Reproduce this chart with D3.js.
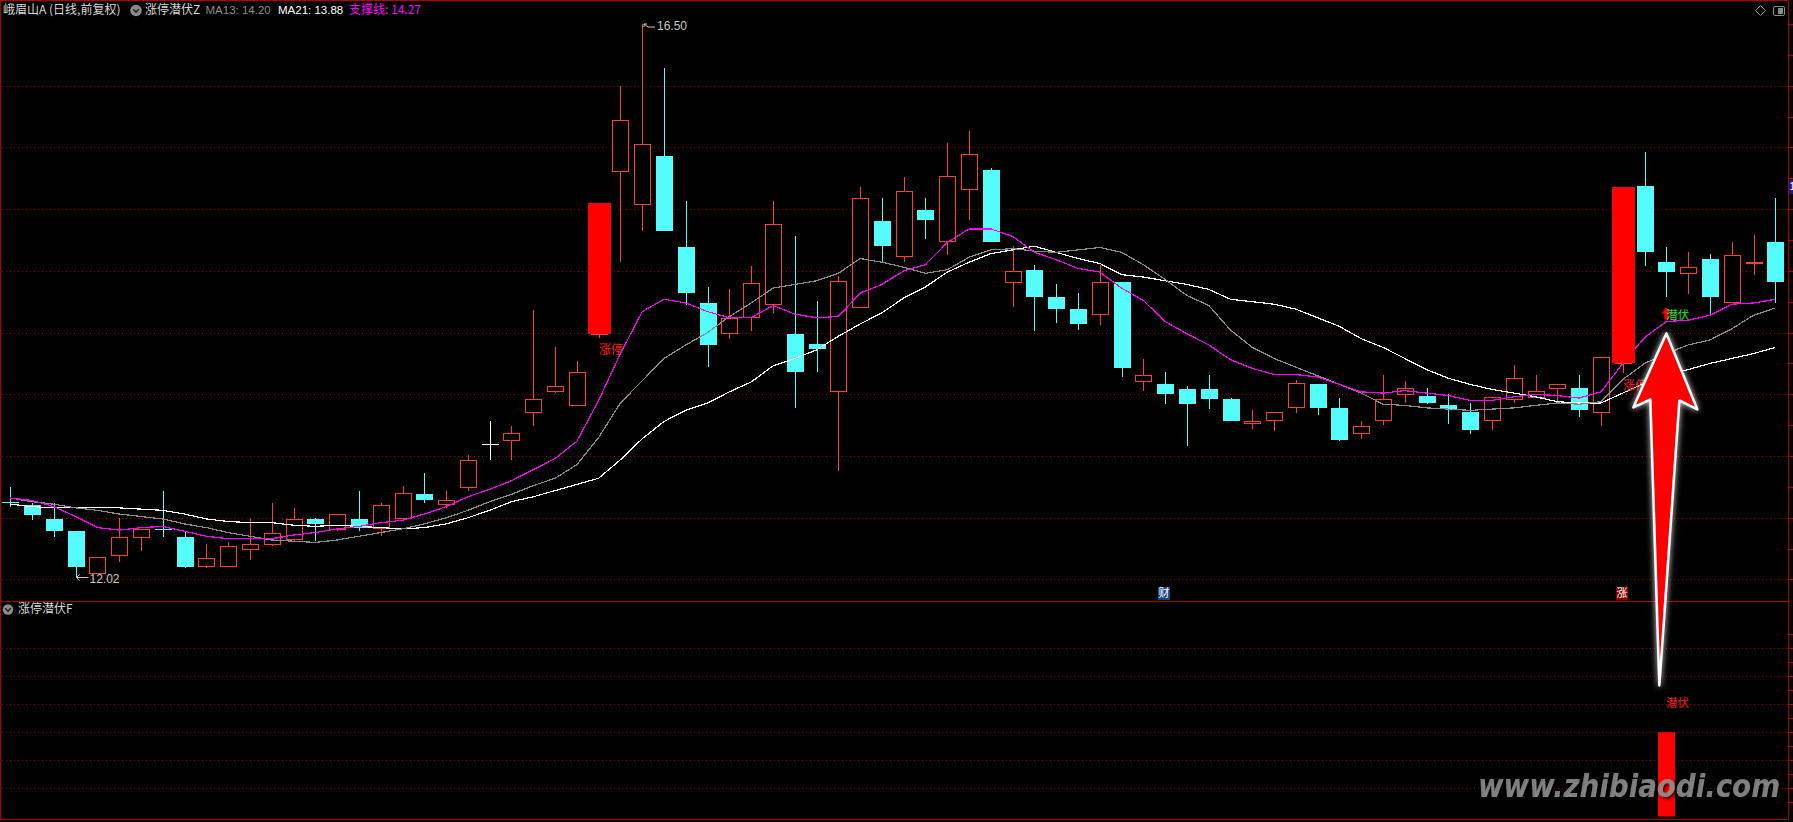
<!DOCTYPE html>
<html>
<head>
<meta charset="utf-8">
<title>峨眉山A 涨停潜伏</title>
<script src="https://cdn.jsdelivr.net/npm/d3@7/dist/d3.min.js"></script>
<style>
  html, body { margin:0; padding:0; background:#000; overflow:hidden; }
  svg { display:block; }
</style>
</head>
<body>
<svg id="chart" width="1793" height="822"></svg>
<script>
// ---------------- DATA ----------------
const opens = [
12.63,12.60,12.49,12.39,12.05,12.20,12.34,12.41,12.34,12.11,
12.11,12.25,12.29,12.33,12.49,12.41,12.49,12.42,12.50,12.69,
12.61,12.75,13.10,13.13,13.36,13.53,13.41,13.99,15.31,15.04,
15.43,14.69,14.24,14.00,14.13,14.23,13.99,13.91,13.53,14.21,
14.90,14.62,14.99,14.74,15.16,15.32,14.41,14.51,14.29,14.19,
14.15,14.41,13.61,13.58,13.54,13.54,13.46,13.27,13.29,13.40,
13.58,13.39,13.19,13.29,13.50,13.49,13.41,13.36,13.29,13.46,
13.48,13.55,13.55,13.36,13.75,15.19,14.57,14.48,14.60,14.25,
14.56,14.73];
const highs = [
12.75,12.62,12.62,12.39,12.18,12.50,12.41,12.72,12.39,12.29,
12.30,12.49,12.62,12.58,12.50,12.53,12.72,12.62,12.76,12.86,
12.72,13.01,13.28,13.24,14.18,13.88,13.77,15.05,16.00,16.50,
16.14,15.07,14.37,14.35,14.54,15.07,14.78,14.26,14.46,15.18,
15.09,15.26,15.09,15.54,15.63,15.33,14.70,14.55,14.39,14.32,
14.55,14.41,13.79,13.68,13.57,13.66,13.47,13.37,13.36,13.62,
13.58,13.47,13.28,13.66,13.61,13.55,13.50,13.43,13.48,13.74,
13.66,13.58,13.66,13.80,15.18,15.46,14.69,14.65,14.64,14.73,
14.79,15.09];
const lows = [
12.59,12.48,12.34,12.02,12.05,12.14,12.23,12.34,12.09,12.09,
12.11,12.16,12.27,12.31,12.31,12.39,12.39,12.35,12.47,12.62,
12.58,12.72,12.97,12.97,13.24,13.51,13.41,13.96,14.57,14.82,
14.82,14.22,13.72,13.95,14.01,14.16,13.39,13.68,12.88,14.21,
14.57,14.57,14.76,14.63,14.91,14.73,14.21,14.01,14.08,14.02,
14.06,13.64,13.53,13.42,13.08,13.38,13.28,13.22,13.20,13.35,
13.33,13.12,13.14,13.25,13.43,13.42,13.26,13.18,13.21,13.43,
13.48,13.43,13.32,13.24,13.67,14.54,14.29,14.31,14.14,14.25,
14.47,14.24];
const closes = [
12.62,12.52,12.39,12.10,12.18,12.34,12.41,12.40,12.10,12.17,
12.27,12.29,12.38,12.49,12.45,12.53,12.42,12.60,12.70,12.64,
12.64,12.97,13.10,13.19,13.46,13.57,13.68,15.05,15.72,15.53,
14.82,14.32,13.90,14.12,14.40,14.88,13.68,13.87,14.42,15.09,
14.70,15.15,14.91,15.27,15.45,14.73,14.50,14.29,14.19,14.07,
14.41,13.71,13.66,13.50,13.42,13.46,13.28,13.28,13.36,13.59,
13.39,13.13,13.24,13.46,13.55,13.43,13.38,13.21,13.48,13.63,
13.53,13.58,13.37,13.80,15.18,14.65,14.49,14.53,14.29,14.63,
14.57,14.41];
// 支撑线 (magenta)
const supportLine = [
12.66,12.64,12.59,12.51,12.42,12.40,12.42,12.43,12.39,12.35,
12.33,12.33,12.33,12.36,12.38,12.41,12.43,12.46,12.48,12.53,
12.59,12.67,12.73,12.80,12.89,12.98,13.12,13.45,13.83,14.17,
14.27,14.24,14.17,14.12,14.12,14.22,14.15,14.12,14.13,14.32,
14.39,14.50,14.55,14.73,14.84,14.84,14.78,14.65,14.59,14.52,
14.49,14.36,14.26,14.09,13.99,13.90,13.78,13.71,13.66,13.66,
13.64,13.58,13.52,13.51,13.53,13.51,13.49,13.45,13.45,13.48,
13.50,13.49,13.47,13.52,13.75,13.96,14.09,14.10,14.14,14.23,
14.24,14.27];
// MA13 (gray)
const ma13 = [
12.66,12.63,12.61,12.58,12.56,12.53,12.51,12.49,12.45,12.42,
12.38,12.35,12.32,12.31,12.30,12.32,12.35,12.38,12.41,12.45,
12.50,12.56,12.63,12.69,12.76,12.82,12.93,13.15,13.43,13.61,
13.79,13.90,14.00,14.13,14.24,14.36,14.39,14.42,14.48,14.60,
14.57,14.53,14.48,14.51,14.61,14.67,14.68,14.66,14.65,14.67,
14.69,14.65,14.55,14.43,14.30,14.22,14.02,13.88,13.79,13.72,
13.65,13.58,13.51,13.42,13.41,13.39,13.38,13.37,13.38,13.39,
13.41,13.43,13.42,13.44,13.62,13.75,13.83,13.90,13.94,14.03,
14.14,14.20];
// MA21 (white)
const ma21 = [
12.61,12.59,12.58,12.58,12.58,12.58,12.57,12.56,12.53,12.49,
12.47,12.46,12.46,12.44,12.43,12.44,12.43,12.42,12.41,12.42,
12.45,12.50,12.56,12.63,12.67,12.72,12.77,12.82,12.97,13.14,
13.28,13.37,13.43,13.52,13.60,13.73,13.79,13.86,13.97,14.07,
14.16,14.28,14.37,14.49,14.57,14.64,14.67,14.70,14.65,14.60,
14.56,14.47,14.45,14.42,14.39,14.35,14.27,14.25,14.23,14.19,
14.12,14.05,13.95,13.88,13.79,13.70,13.63,13.58,13.54,13.51,
13.48,13.44,13.43,13.43,13.51,13.59,13.66,13.70,13.75,13.79,
13.83,13.88];

const priceGrid = [12.0, 12.5, 13.0, 13.5, 14.0, 14.5, 15.0, 15.5, 16.0];
const priceTicks = [12.0,12.25,12.5,12.75,13.0,13.25,13.5,13.75,14.0,14.25,14.5,14.75,15.0,15.25,15.5,15.75,16.0,16.25,16.5];
const subGrid = [0.333, 0.667, 1.0, 1.333, 1.667, 2.0];
const subTicks = [0.167,0.333,0.5,0.667,0.833,1.0,1.167,1.333,1.5,1.667,1.833,2.0,2.167];
const limitUpDays = [27, 74];
const limitUpLabel = "涨停";
const signalDays = [76];
const signalLabel = "潜伏";
const subSignalValues = [1];
const markerDays = [53, 74];
const markerTexts = ["财", "涨"];
const titleText = "峨眉山A (日线,前复权)";
const mainIndicator = "涨停潜伏Z";
const subIndicator = "涨停潜伏F";
const watermark = "www.zhibiaodi.com";

// ---------------- DRAW ----------------
const W = 1793, H = 822;
const svg = d3.select('#chart');
const CJK = '"Noto Sans CJK SC", "Liberation Sans", sans-serif';
const LAT = '"Liberation Sans", "Noto Sans CJK SC", sans-serif';
const FRAME = '#b00000', GRID = '#a80000';
const UP = '#ff3c3c', DOWN = '#54fcfc', FLAT = '#ffffff';

svg.append('rect').attr('width', W).attr('height', H).attr('fill', '#000');

const defs = svg.append('defs');
const glow = defs.append('filter').attr('id', 'glow')
  .attr('x', '-60%').attr('y', '-20%').attr('width', '220%').attr('height', '140%');
glow.append('feGaussianBlur').attr('in', 'SourceAlpha').attr('stdDeviation', 3).attr('result', 'b');
glow.append('feFlood').attr('flood-color', '#ffffff').attr('flood-opacity', 0.85).attr('result', 'f');
glow.append('feComposite').attr('in', 'f').attr('in2', 'b').attr('operator', 'in').attr('result', 'g');
const gm = glow.append('feMerge');
gm.append('feMergeNode').attr('in', 'g');
gm.append('feMergeNode').attr('in', 'SourceGraphic');
const shadow = defs.append('filter').attr('id', 'wshadow');
shadow.append('feDropShadow').attr('dx', 2).attr('dy', 2).attr('stdDeviation', 1.5)
  .attr('flood-color', '#000').attr('flood-opacity', 0.9);

const n = closes.length;
const x = d3.scaleLinear().domain([0, n - 1]).range([10.3, 1775.3]);
const y = d3.scaleLinear().domain([d3.min(lows), d3.max(highs)]).range([577, 24]);
const ySub = d3.scaleLinear().domain([0, 1]).range([816.5, 732.3]);
const px = v => Math.round(v) + 0.5;

// grid
const grid = svg.append('g').attr('shape-rendering', 'crispEdges');
grid.selectAll('line.pg').data(priceGrid).join('line').attr('class', 'pg')
  .attr('x1', 2).attr('x2', 1788)
  .attr('y1', d => px(y(d))).attr('y2', d => px(y(d)))
  .attr('stroke', GRID).attr('stroke-dasharray', '1 3');
grid.selectAll('line.sg').data(subGrid).join('line').attr('class', 'sg')
  .attr('x1', 2).attr('x2', 1788)
  .attr('y1', d => px(ySub(d))).attr('y2', d => px(ySub(d)))
  .attr('stroke', GRID).attr('stroke-dasharray', '1 3');

// frame
const fr = svg.append('g').attr('shape-rendering', 'crispEdges');
fr.append('rect').attr('x', 0.5).attr('y', 0.5).attr('width', 1788).attr('height', 819)
  .attr('fill', 'none').attr('stroke', FRAME);
fr.append('line').attr('x1', 0).attr('x2', 1789).attr('y1', 601.5).attr('y2', 601.5).attr('stroke', FRAME);
fr.selectAll('line.pt').data(priceTicks).join('line').attr('class', 'pt')
  .attr('x1', 1789).attr('x2', 1793).attr('y1', d => px(y(d))).attr('y2', d => px(y(d))).attr('stroke', FRAME);
fr.selectAll('line.st').data(subTicks).join('line').attr('class', 'st')
  .attr('x1', 1789).attr('x2', 1793).attr('y1', d => px(ySub(d))).attr('y2', d => px(ySub(d))).attr('stroke', FRAME);

// candles
const cg = svg.append('g').attr('shape-rendering', 'crispEdges');
closes.forEach((c, i) => {
  const o = opens[i], h = highs[i], l = lows[i];
  const cx = Math.round(x(i));
  const wx = cx + 0.5;
  const yh = Math.round(y(h)), yl = Math.round(y(l));
  const yt = Math.round(y(Math.max(o, c))), yb = Math.round(y(Math.min(o, c)));
  if (c > o) {
    if (yh < yt) cg.append('line').attr('x1', wx).attr('x2', wx).attr('y1', yh).attr('y2', yt).attr('stroke', UP);
    if (yl > yb) cg.append('line').attr('x1', wx).attr('x2', wx).attr('y1', yb).attr('y2', yl).attr('stroke', UP);
    cg.append('rect').attr('x', cx - 7.5).attr('y', yt + 0.5).attr('width', 16)
      .attr('height', Math.max(1, yb - yt)).attr('fill', '#000').attr('stroke', UP);
  } else if (c < o) {
    cg.append('line').attr('x1', wx).attr('x2', wx).attr('y1', yh).attr('y2', yl).attr('stroke', DOWN);
    cg.append('rect').attr('x', cx - 8).attr('y', yt).attr('width', 17)
      .attr('height', Math.max(1, yb - yt)).attr('fill', DOWN);
  } else {
    cg.append('line').attr('x1', wx).attr('x2', wx).attr('y1', yh).attr('y2', yl).attr('stroke', FLAT);
    cg.append('line').attr('x1', cx - 8).attr('x2', cx + 9).attr('y1', yt + 0.5).attr('y2', yt + 0.5).attr('stroke', FLAT);
  }
});

// MA lines
const line = d3.line().x((d, i) => x(i)).y(d => y(d));
const lg = svg.append('g').attr('fill', 'none').attr('shape-rendering', 'crispEdges');
lg.append('path').attr('d', line(ma21)).attr('stroke', '#ffffff').attr('stroke-width', 1.2);
lg.append('path').attr('d', line(ma13)).attr('stroke', '#8a8a8a').attr('stroke-width', 1.2);
lg.append('path').attr('d', line(supportLine)).attr('stroke', '#ff00ff').attr('stroke-width', 1.2);

// limit-up blocks
const lu = svg.append('g');
limitUpDays.forEach(i => {
  const cx = Math.round(x(i));
  lu.append('rect').attr('shape-rendering', 'crispEdges')
    .attr('x', cx - 11).attr('width', 23)
    .attr('y', Math.round(y(closes[i]))).attr('height', Math.round(y(opens[i])) - Math.round(y(closes[i])))
    .attr('fill', '#ff0000');
  lu.append('text').attr('x', cx).attr('y', y(lows[i]) + 13)
    .attr('dominant-baseline', 'middle').attr('font-family', CJK).attr('font-size', 12)
    .attr('fill', '#ff1a1a').text(limitUpLabel);
});

// signal label (main)
signalDays.forEach(i => {
  const cx = x(i);
  const ys = y(supportLine[i]);
  svg.append('path')
    .attr('d', `M${cx},${ys - 14} L${cx + 5},${ys - 8} L${cx + 2},${ys - 8} L${cx + 2},${ys - 2} L${cx - 2},${ys - 2} L${cx - 2},${ys - 8} L${cx - 5},${ys - 8} Z`)
    .attr('fill', '#ff0000');
  svg.append('text').attr('x', cx).attr('y', ys - 6)
    .attr('dominant-baseline', 'middle').attr('font-family', CJK).attr('font-size', 11.5)
    .attr('fill', '#22ee22').text(signalLabel);
});

// extreme labels
(function () {
  const iMax = d3.maxIndex(highs), iMin = d3.minIndex(lows);
  const ax = Math.round(x(iMax)) + 1, ay = Math.round(y(highs[iMax]));
  svg.append('path').attr('d', `M${ax + 12},${ay + 3} L${ax + 5},${ay + 3} L${ax + 1},${ay} M${ax + 1},${ay} L${ax + 4},${ay} M${ax + 1},${ay} L${ax + 1},${ay + 3}`)
    .attr('stroke', '#c8c8c8').attr('fill', 'none');
  svg.append('text').attr('x', ax + 14).attr('y', ay + 3).attr('dominant-baseline', 'middle')
    .attr('font-family', LAT).attr('font-size', 12).attr('fill', '#c8c8c8').text(highs[iMax].toFixed(2));
  const bx = Math.round(x(iMin)) + 0.5, by = Math.round(y(lows[iMin])) + 0.5;
  svg.append('path').attr('d', `M${bx + 12},${by} L${bx},${by} M${bx + 3},${by - 3} L${bx},${by} L${bx + 3},${by + 3}`)
    .attr('stroke', '#c8c8c8').attr('fill', 'none');
  svg.append('text').attr('x', bx + 13).attr('y', by + 2.5).attr('dominant-baseline', 'middle')
    .attr('font-family', LAT).attr('font-size', 12).attr('fill', '#c8c8c8').text(lows[iMin].toFixed(2));
})();

// event markers (财 / 涨)
const markerStyle = { '财': { bg: '#17457f' }, '涨': { bg: '#8a0000' } };
markerDays.forEach((d, k) => {
  const t = markerTexts[k], st = markerStyle[t];
  const mx = Math.round(x(d) - 7);
  svg.append('rect').attr('x', mx).attr('y', 587).attr('width', 12).attr('height', 13).attr('fill', st.bg);
  svg.append('text').attr('x', mx + 6).attr('y', 594).attr('text-anchor', 'middle')
    .attr('dominant-baseline', 'middle').attr('font-family', CJK).attr('font-size', 11)
    .attr('fill', '#ffffff').text(t);
});

// price marker at right edge (limit-up price)
svg.append('rect').attr('x', 1789).attr('y', Math.round(y(closes[limitUpDays[1]])) - 7)
  .attr('width', 6).attr('height', 14).attr('fill', '#1a1a90');
svg.append('text').attr('x', 1789.5).attr('y', y(closes[limitUpDays[1]]) + 0.5)
  .attr('dominant-baseline', 'middle').attr('font-family', LAT).attr('font-size', 10)
  .attr('fill', '#ffffff').text('1');

// sub panel signal
signalDays.forEach((d, k) => {
  const cx = Math.round(x(d));
  svg.append('rect').attr('x', cx - 8).attr('width', 17)
    .attr('y', ySub(subSignalValues[k])).attr('height', ySub(0) - ySub(subSignalValues[k]))
    .attr('fill', '#ff0000');
  svg.append('text').attr('x', cx).attr('y', ySub(1.333))
    .attr('dominant-baseline', 'middle').attr('font-family', CJK).attr('font-size', 11.5)
    .attr('fill', '#ff1a1a').text(signalLabel);
});

// header
function icon(cx, cy, r) {
  svg.append('circle').attr('cx', cx).attr('cy', cy).attr('r', r).attr('fill', '#8a8a8a');
  svg.append('path').attr('d', `M${cx - 2.8},${cy - 1.2} L${cx},${cy + 1.6} L${cx + 2.8},${cy - 1.2}`)
    .attr('stroke', '#222').attr('stroke-width', 1.5).attr('fill', 'none');
}
const hy = 10.5;
svg.append('text').attr('x', 3).attr('y', hy).attr('dominant-baseline', 'middle')
  .attr('font-family', CJK).attr('font-size', 12).attr('fill', '#d8d8d8').text(titleText);
icon(136, 10.5, 5.8);
svg.append('text').attr('x', 145).attr('y', hy).attr('dominant-baseline', 'middle')
  .attr('font-family', CJK).attr('font-size', 12).attr('fill', '#d8d8d8').text(mainIndicator);
svg.append('text').attr('x', 205.5).attr('y', hy).attr('dominant-baseline', 'middle')
  .attr('font-family', LAT).attr('font-size', 11.5).attr('fill', '#8c8c8c').text('MA13: ' + ma13[n - 1].toFixed(2));
svg.append('text').attr('x', 278).attr('y', hy).attr('dominant-baseline', 'middle')
  .attr('font-family', LAT).attr('font-size', 11.5).attr('fill', '#ffffff').text('MA21: ' + ma21[n - 1].toFixed(2));
svg.append('text').attr('x', 349).attr('y', hy).attr('dominant-baseline', 'middle')
  .attr('font-family', CJK).attr('font-size', 12).attr('fill', '#ff00ff').text('支撑线: ' + supportLine[n - 1].toFixed(2));
// top-right icons
svg.append('path').attr('d', 'M1760.5,5.5 L1765.5,10.5 L1760.5,15.5 L1755.5,10.5 Z')
  .attr('fill', 'none').attr('stroke', '#8c8c8c');
svg.append('rect').attr('x', 1773.5).attr('y', 6.5).attr('width', 11).attr('height', 9).attr('rx', 1.5)
  .attr('fill', 'none').attr('stroke', '#8c8c8c');
svg.append('rect').attr('x', 1778).attr('y', 8).attr('width', 5).attr('height', 6).attr('fill', '#8c8c8c');

// sub header
icon(8, 609.5, 5.3);
svg.append('text').attr('x', 18).attr('y', 609.5).attr('dominant-baseline', 'middle')
  .attr('font-family', CJK).attr('font-size', 12).attr('fill', '#d8d8d8').text(subIndicator);

// big annotation arrow (points at the signal day)
(function () {
  const d = signalDays[0];
  const cx = x(d), ty = y(supportLine[d]) + 12;
  const pts = [[cx, ty], [cx + 31, ty + 76], [cx + 13, ty + 67], [cx - 7, ty + 352], [cx - 16, ty + 66], [cx - 33, ty + 74]];
  svg.append('path').attr('d', 'M' + pts.map(p => p.join(',')).join('L') + 'Z')
    .attr('fill', '#ff0000').attr('stroke', '#ffffff').attr('stroke-width', 2.5)
    .attr('stroke-linejoin', 'round').attr('filter', 'url(#glow)');
})();

// watermark
svg.append('text').attr('x', 1478).attr('y', 797)
  .attr('font-family', '"DejaVu Sans", sans-serif').attr('font-style', 'italic').attr('font-weight', 'bold')
  .attr('font-size', 32).attr('textLength', 302).attr('lengthAdjust', 'spacingAndGlyphs')
  .attr('fill', '#9a9a9a').attr('fill-opacity', 0.78).attr('filter', 'url(#wshadow)')
  .text(watermark);
</script>
</body>
</html>
